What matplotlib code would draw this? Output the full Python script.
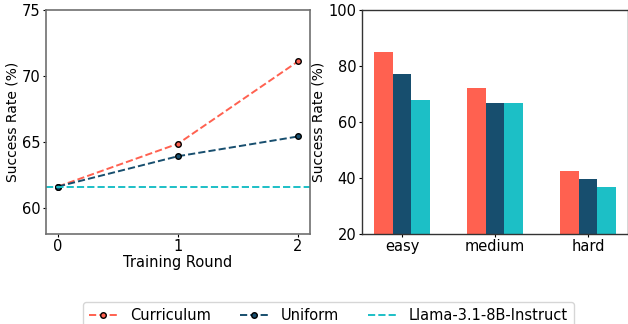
import numpy as np
import matplotlib.pyplot as plt

rounds = [0, 1, 2]
curriculum = [61.6, 64.85, 71.1]
uniform = [61.6, 63.9, 65.4]
baseline = 61.6

levels = ['easy', 'medium', 'hard']
bar_curriculum = [85.0, 72.2, 42.5]
bar_uniform = [77.2, 66.8, 39.7]
bar_baseline = [68.0, 66.8, 36.8]

c_red = '#FF6150'
c_dark = '#174E6E'
c_cyan = '#1CBFC6'

plt.rcParams['font.size'] = 10.5
plt.rcParams['xtick.labelsize'] = 10.5
plt.rcParams['ytick.labelsize'] = 10.5
for a in ('xtick', 'ytick'):
    plt.rcParams[a + '.major.size'] = 2.5
    plt.rcParams[a + '.major.pad'] = 1.5

fig = plt.figure(figsize=(6.28, 3.24), dpi=100)
ax1 = fig.add_axes([0.0733, 0.278, 0.4203, 0.691])
ax2 = fig.add_axes([0.5764, 0.278, 0.4236, 0.691])

# left: success rate vs training round
ax1.plot(rounds, curriculum, ls='--', color=c_red, marker='o', ms=4,
         mfc=c_red, mec='black', lw=1.4, label='Curriculum')
ax1.plot(rounds, uniform, ls='--', color=c_dark, marker='o', ms=4,
         mfc=c_dark, mec='black', lw=1.4, label='Uniform')
ax1.axhline(baseline, ls='--', color=c_cyan, lw=1.4, label='Llama-3.1-8B-Instruct')
ax1.set_xlim(-0.1, 2.1)
ax1.set_ylim(58, 75)
ax1.set_xticks(rounds)
ax1.set_yticks([60, 65, 70, 75])
ax1.set_xlabel('Training Round', labelpad=0.5)
ax1.set_ylabel('Success Rate (%)', labelpad=1.5, fontsize=10)
for s in ax1.spines.values():
    s.set_color('#707070')
    s.set_linewidth(1.2)

# right: success rate by difficulty
x = np.arange(len(levels))
w = 0.2
ax2.bar(x - w, bar_curriculum, w, color=c_red)
ax2.bar(x, bar_uniform, w, color=c_dark)
ax2.bar(x + w, bar_baseline, w, color=c_cyan)
ax2.set_xticks(x)
ax2.set_xticklabels(levels)
ax2.set_ylim(20, 100)
ax2.set_yticks([20, 40, 60, 80, 100])
ax2.set_ylabel('Success Rate (%)', labelpad=2, fontsize=10)
for s in ax2.spines.values():
    s.set_color('#333333')
    s.set_linewidth(1.0)

h, l = ax1.get_legend_handles_labels()
fig.legend(h, l, loc='upper center', bbox_to_anchor=(0.523, 0.09), ncol=3,
           frameon=True, columnspacing=2.0)

fig.savefig('out.png', dpi=100)
